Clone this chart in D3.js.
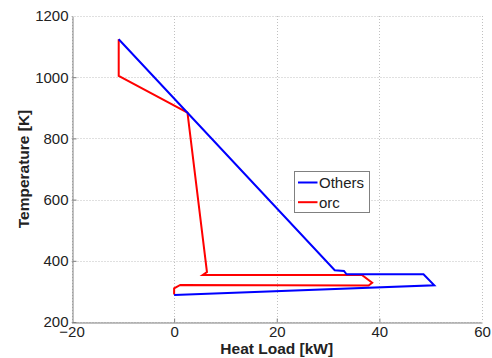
<!DOCTYPE html>
<html>
<head>
<meta charset="utf-8">
<script src="https://cdn.jsdelivr.net/npm/d3@7"></script>
<style>
body{margin:0;background:#fff;}
svg{display:block;font-family:"Liberation Sans",Arial,sans-serif;}
</style>
</head>
<body>
<svg id="chart" width="492" height="358"></svg>
<script>
const xTicks = [-20, 0, 20, 40, 60];
const yTicks = [200, 400, 600, 800, 1000, 1200];
const othersX = [-10.8, 31.3, 33.1, 33.6, 48.6, 50.7, 0];
const othersT = [1124, 369, 367, 356, 356, 320, 288];
const orcX = [-10.8, -10.8, 2.6, 6.4, 5.6, 36.6, 38.6, 37.9, 1.2, 0, 0];
const orcT = [1124, 1004, 884, 363, 354, 354, 328, 319, 321, 310, 290];
const seriesNames = ["Others", "orc"];
const seriesColors = ["#0000ff", "#ff0000"];

const svg = d3.select("#chart");
const L = 71.5, R = 482, T = 16, B = 322;
const x = d3.scaleLinear().domain([-20, 60]).range([L, R]);
const y = d3.scaleLinear().domain([200, 1200]).range([B, T]);

// grid
const grid = svg.append("g").attr("stroke", "#c0c0c0").attr("stroke-width", 1).attr("stroke-dasharray", "1,2");
grid.selectAll(".gx").data(xTicks).join("line")
  .attr("x1", d => Math.round(x(d)) + 0.5).attr("x2", d => Math.round(x(d)) + 0.5)
  .attr("y1", T).attr("y2", B);
grid.selectAll(".gy").data(yTicks).join("line")
  .attr("y1", d => Math.round(y(d)) + 0.5).attr("y2", d => Math.round(y(d)) + 0.5)
  .attr("x1", L).attr("x2", R);

// axes
const xAxis = d3.axisBottom(x).tickValues(xTicks).tickSizeInner(-4).tickSizeOuter(0).tickPadding(4)
  .tickFormat(d => d < 0 ? "\u2212" + Math.abs(d) : String(d));
const yAxis = d3.axisLeft(y).tickValues(yTicks).tickSizeInner(-4).tickSizeOuter(0).tickPadding(4)
  .tickFormat(d => String(d));
const gx = svg.append("g").attr("transform", `translate(0,${Math.round(B)+0.5})`).call(xAxis);
const gy = svg.append("g").attr("transform", `translate(${Math.round(L)+0.5},0)`).call(yAxis);
[gx, gy].forEach(g => {
  g.select(".domain").attr("stroke", "#808080").attr("stroke-width", 1);
  g.selectAll(".tick line").attr("stroke", "#808080");
  g.selectAll("text").attr("font-size", 15).attr("fill", "#222").attr("font-family", "Liberation Sans, Arial, sans-serif");
});
gx.selectAll(".tick").filter(d => d === 60 || d === -20).select("line").remove();
gy.selectAll(".tick").filter(d => d === 1200).select("line").remove();

// lines
const line = d3.line().x(d => x(d[0])).y(d => y(d[1]));
const othersPts = othersX.map((v, i) => [v, othersT[i]]);
const orcPts = orcX.map((v, i) => [v, orcT[i]]);
svg.append("path").datum(orcPts).attr("d", line).attr("fill", "none")
  .attr("stroke", seriesColors[1]).attr("stroke-width", 2).attr("stroke-linejoin", "miter");
svg.append("path").datum(othersPts).attr("d", line).attr("fill", "none")
  .attr("stroke", seriesColors[0]).attr("stroke-width", 2).attr("stroke-linejoin", "miter");

// axis labels
svg.append("text").attr("x", (L + R) / 2).attr("y", 354).attr("text-anchor", "middle")
  .attr("font-size", 15.5).attr("font-weight", "bold").attr("fill", "#222").text("Heat Load [kW]");
svg.append("text").attr("transform", `translate(29,${(T + B) / 2}) rotate(-90)`).attr("text-anchor", "middle")
  .attr("font-size", 15.5).attr("font-weight", "bold").attr("fill", "#222").text("Temperature [K]");

// legend
const lg = svg.append("g");
lg.append("rect").attr("x", 294.5).attr("y", 171.5).attr("width", 75).attr("height", 41)
  .attr("fill", "#fff").attr("stroke", "#808080").attr("stroke-width", 1);
seriesNames.forEach((n, i) => {
  const yy = 182.5 + i * 19.7;
  lg.append("line").attr("x1", 298).attr("x2", 317.5).attr("y1", yy).attr("y2", yy)
    .attr("stroke", seriesColors[i]).attr("stroke-width", 2);
  lg.append("text").attr("x", 319).attr("y", yy + 5.5).attr("font-size", 15).attr("fill", "#222").text(n);
});
</script>
</body>
</html>
